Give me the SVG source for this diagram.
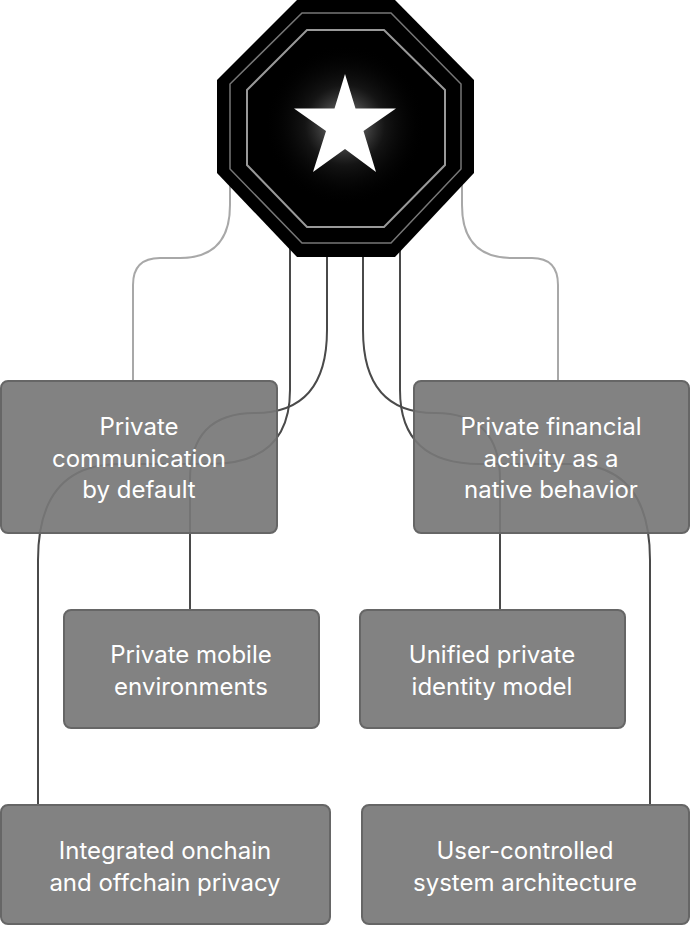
<svg xmlns="http://www.w3.org/2000/svg" width="690" height="927" viewBox="0 0 690 927">
<style>
.c{fill:none;stroke-width:2}
.lt{stroke:#a8a8a8}
.dk{stroke:#4a4a4a}
.box{fill:#777;fill-opacity:0.92;stroke:#666;stroke-width:2}
.t{font-family:Inter,"Liberation Sans",sans-serif;font-size:24px;fill:#fff;text-anchor:middle}
</style>
<defs>
<radialGradient id="glow" cx="345" cy="125" r="80" gradientUnits="userSpaceOnUse">
<stop offset="0" stop-color="#fff" stop-opacity="0.6"/>
<stop offset="0.5" stop-color="#888" stop-opacity="0.15"/>
<stop offset="1" stop-color="#000" stop-opacity="0"/>
</radialGradient>
</defs>
<rect width="690" height="927" fill="#fff"/>
<g id="connectors">
<path class="c lt" d="M230 180 V205 Q230 258 180 258 H160 Q133 258 133 285 V381"/>
<path class="c lt" d="M462 180 V205 Q462 258 512 258 H532 Q558 258 558 285 V381"/>
<path class="c dk" d="M327 250 V330 Q327 413 255 413 Q190 413 190 480 V610"/>
<path class="c dk" d="M363 250 V330 Q363 413 435 413 Q500 413 500 480 V610"/>
<path class="c dk" d="M290 240 V390 Q290 464 210 464 H120 Q38 464 38 560 V805"/>
<path class="c dk" d="M400 240 V390 Q400 464 480 464 H570 Q650 464 650 560 V805"/>
</g>
<g id="hub">
<polygon points="297,0 395,0 474,80 474,173 395,257 297,257 217,173 217,80" fill="#000"/>
<polygon points="302,13 391,13 461,84 461,169 391,243 302,243 230,169 230,84" fill="none" stroke="#777" stroke-width="1.5"/>
<polygon points="307,30 384,30 445,90 445,165 384,227 307,227 247,165 247,90" fill="none" stroke="#999" stroke-width="2"/>
<circle cx="345" cy="125" r="80" fill="url(#glow)"/>
<polygon points="345,74 355.5,108.5 396,108.5 363.5,131 376,172 345,149 313,172 326,131 294,108.5 334.5,108.5" fill="#fff"/>
</g>
<g id="n1"><rect class="box" x="1" y="381" width="276" height="152" rx="7"/>
<text class="t" x="139" y="435">Private</text><text class="t" x="139" y="467">communication</text><text class="t" x="139" y="498">by default</text></g>
<g id="n2"><rect class="box" x="414" y="381" width="275" height="152" rx="7"/>
<text class="t" x="551" y="435">Private financial</text><text class="t" x="551" y="467">activity as a</text><text class="t" x="551" y="498">native behavior</text></g>
<g id="n3"><rect class="box" x="64" y="610" width="255" height="118" rx="7"/>
<text class="t" x="191" y="663">Private mobile</text><text class="t" x="191" y="695">environments</text></g>
<g id="n4"><rect class="box" x="360" y="610" width="265" height="118" rx="7"/>
<text class="t" x="492" y="663">Unified private</text><text class="t" x="492" y="695">identity model</text></g>
<g id="n5"><rect class="box" x="1" y="805" width="329" height="119" rx="7"/>
<text class="t" x="165" y="859">Integrated onchain</text><text class="t" x="165" y="891">and offchain privacy</text></g>
<g id="n6"><rect class="box" x="362" y="805" width="327" height="119" rx="7"/>
<text class="t" x="525" y="859">User-controlled</text><text class="t" x="525" y="891">system architecture</text></g>
</svg>
